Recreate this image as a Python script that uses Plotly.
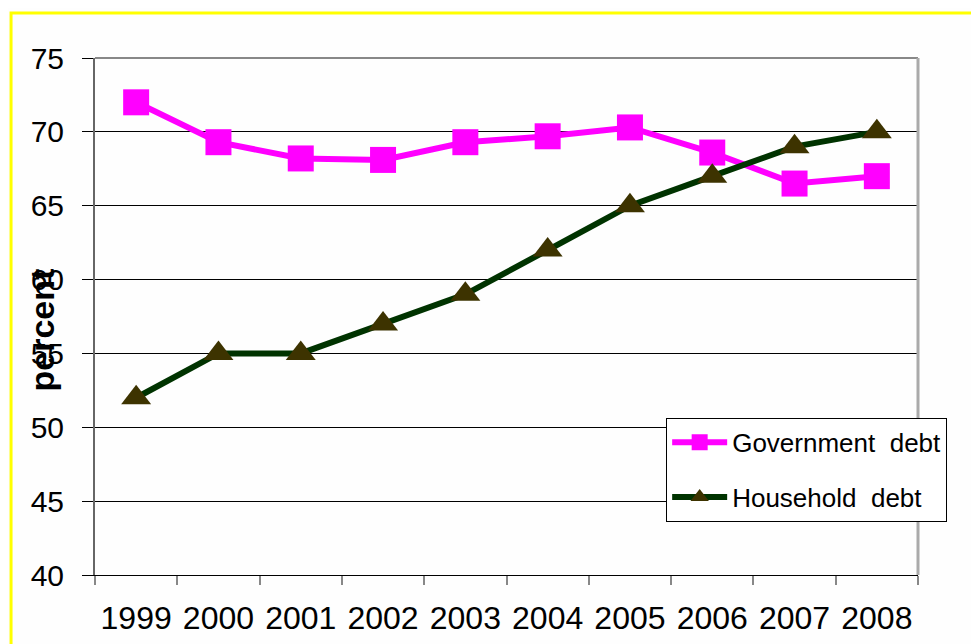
import plotly.graph_objects as go

years = ["1999", "2000", "2001", "2002", "2003", "2004", "2005", "2006", "2007", "2008"]
government_debt = [72.0, 69.3, 68.2, 68.1, 69.3, 69.7, 70.3, 68.6, 66.5, 67.0]
household_debt = [52.0, 55.0, 55.0, 57.0, 59.0, 62.0, 65.0, 67.0, 69.0, 70.0]

fig = go.Figure()
fig.add_trace(go.Scatter(
    x=years, y=government_debt, mode="lines+markers", name="Government  debt",
    legendgroup="g1",
    line=dict(color="#ff00ff", width=6),
    marker=dict(symbol="square", size=26, color="#ff00ff"),
))
fig.add_trace(go.Scatter(
    x=years, y=household_debt, mode="lines+markers", name="Household  debt",
    legendgroup="g2",
    line=dict(color="#003300", width=6),
    marker=dict(symbol="triangle-up", size=26, color="#3d3300"),
))

fig.update_layout(
    width=971, height=636,
    margin=dict(l=87, r=61, t=50, b=69),
    paper_bgcolor="#fefefe", plot_bgcolor="#fefefe",
    font=dict(family="Liberation Sans, Arial, sans-serif", color="#000000"),
    showlegend=True,
    legend=dict(
        x=0.694, y=0.304, xanchor="left", yanchor="top",
        bgcolor="#ffffff", bordercolor="#000000", borderwidth=1,
        font=dict(size=26), tracegroupgap=18, itemwidth=55,
    ),
    xaxis=dict(
        type="category", tickson="boundaries", ticks="outside", ticklen=9,
        tickcolor="#888888", tickwidth=2, showgrid=False,
        showline=True, linecolor="#000000", linewidth=1,
        tickfont=dict(size=32), ticklabelstandoff=15,
        range=[-0.5, 9.5], mirror=False, automargin=False,
    ),
    yaxis=dict(
        range=[40, 75], dtick=5, ticks="outside", ticklen=11, tickcolor="#000000",
        showgrid=True, gridcolor="#000000", gridwidth=1,
        showline=True, linecolor="#666666", linewidth=2,
        tickfont=dict(size=30), ticklabelstandoff=12, zeroline=False,
        automargin=False,
    ),
    shapes=[
        dict(type="rect", xref="paper", yref="paper", x0=-0.102, x1=1.2, y0=-0.3, y1=1.087,
             line=dict(color="#ffff00", width=3), fillcolor="rgba(0,0,0,0)", layer="below"),
        dict(type="line", xref="paper", yref="paper", x0=0, x1=1, y0=1, y1=1,
             line=dict(color="#888888", width=2)),
        dict(type="line", xref="paper", yref="paper", x0=1, x1=1, y0=0, y1=1,
             line=dict(color="#aaaaaa", width=3)),
    ],
    annotations=[
        dict(text="<b>percent</b>", xref="paper", yref="paper", x=-0.065, y=0.474,
             textangle=-90, showarrow=False, font=dict(size=34),
             xanchor="center", yanchor="middle"),
    ],
)

fig.write_html("out.html")
